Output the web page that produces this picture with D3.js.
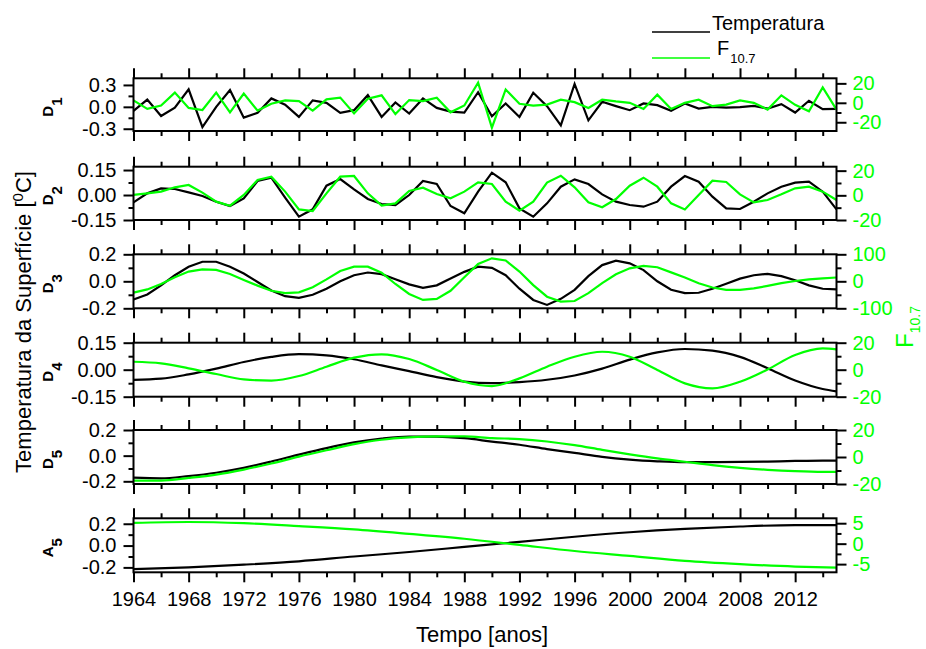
<!DOCTYPE html>
<html>
<head>
<meta charset="utf-8">
<script src="https://cdn.jsdelivr.net/npm/d3@7"></script>
<style>
  body { margin: 0; background: #fff; }
  text { font-family: "Liberation Sans", Arial, sans-serif; }
</style>
</head>
<body>
<div class="chart"></div>
<script>
// Data
var years = d3.range(1964, 2016);
var smoothYears = d3.range(1964, 2015, 2).concat([2015]);
var a5Years = d3.range(1964, 2013, 4).concat([2015]);
var xTickLabels = d3.range(1964, 2013, 4);

var d1Temp = [-0.055, 0.10, -0.125, -0.01, 0.24, -0.277, 0.0, 0.23, -0.148, -0.083,
  0.115, 0.03, -0.138, 0.088, 0.055, -0.083, -0.046, 0.16, -0.138, 0.06,
  -0.092, 0.115, -0.014, -0.065, -0.078, 0.2, -0.13, 0.046, -0.138, 0.194,
  0.01, -0.254, 0.314, -0.185, 0.07, 0.01, -0.046, 0.046, 0.023, -0.055,
  0.046, -0.023, 0.0, -0.01, -0.005, 0.014, -0.023, 0.037, -0.078, 0.083,
  -0.032, -0.028];
var d1Flux = [2.5, -6.3, -2.8, 10.5, -5.3, -7.4, 10.5, -9.8, 9.5, -8,
  -1, 2.5, 1.8, -8, 3.5, 5.3, -10.9, 4.2, 7.7, -11.6,
  2.8, 1.8, 5.3, -9.8, -2.8, 20.7, -25.6, 13.7, -1, -2.8,
  -1.8, 3.2, 0.7, -5.3, 3.2, 1.4, 0, -6.3, 8.4, -6.3,
  0, 3.2, -3.5, -1.8, 2.5, 0, -7, 7.7, -2.1, -8.8,
  15.8, -7];

var d2Temp = [-0.044, 0.01, 0.04, 0.036, 0.016, -0.006, -0.04, -0.066, -0.02, 0.084,
  0.104, -0.016, -0.13, -0.086, 0.056, 0.096, 0.034, -0.024, -0.054, -0.06,
  0.0, 0.084, 0.066, -0.066, -0.11, 0.02, 0.134, 0.076, -0.08, -0.13,
  -0.05, 0.05, 0.094, 0.066, 0.004, -0.04, -0.06, -0.07, -0.04, 0.05,
  0.114, 0.08, -0.01, -0.08, -0.084, -0.04, 0.01, 0.05, 0.074, 0.08,
  0.02, -0.086];
var d2Flux = [0.3, 1.6, 3, 6.5, 8.4, 2.2, -5.1, -8.4, 0.3, 12.4,
  15.1, 3, -11.4, -12.7, 1.6, 15.1, 15.7, 1.6, -8.4, -6.5,
  3.5, 6.2, 1.1, -2.4, 3, 10.5, 9.2, -5.1, -12.4, -5.1,
  10.3, 15.9, 6.5, -5.7, -9.7, -3, 7.8, 14.3, 7, -6.5,
  -11.4, 0.3, 11.9, 10.8, 0.8, -5.7, -3.8, 0.8, 5.7, 7,
  3, -3.8];

var d3Temp = [-0.135, -0.098, -0.03, 0.045, 0.108, 0.145, 0.145, 0.108, 0.058, -0.005,
  -0.068, -0.11, -0.123, -0.1, -0.055, 0, 0.045, 0.065, 0.053, 0.015,
  -0.023, -0.048, -0.03, 0.02, 0.07, 0.108, 0.1, 0.045, -0.055, -0.138,
  -0.175, -0.13, -0.063, 0.038, 0.12, 0.153, 0.133, 0.083, 0, -0.063,
  -0.088, -0.085, -0.055, -0.018, 0.02, 0.045, 0.055, 0.038, 0.008, -0.03,
  -0.055, -0.06];
var d3Flux = [-42, -30, -10, 15, 36, 44, 42, 27, 5, -16,
  -35, -44, -41, -22, 7, 38, 54, 54, 32, -10,
  -47, -69, -65, -35, 15, 64, 85, 77, 36, -14,
  -57, -75, -73, -44, -7, 26, 48, 57, 52, 33,
  14, -7, -23, -32, -32, -26, -17, -7, 1, 7,
  11, 14];

var d4Temp = [-0.056, -0.05, -0.026, 0.006, 0.043, 0.071, 0.086, 0.08, 0.058, 0.024,
  -0.008, -0.041, -0.066, -0.075, -0.069, -0.056, -0.032, 0.006, 0.056, 0.096,
  0.115, 0.106, 0.071, 0.008, -0.06, -0.107, -0.12];
var d4Flux = [5.9, 4.7, 1, -3.2, -7.2, -8.1, -4.7, 2.2, 8.9, 11.4,
  7.9, -0.2, -8.9, -12.1, -6.4, 2.2, 9.6, 13.3, 9.6, -0.2,
  -10.1, -13.8, -8.9, 0.2, 10.9, 15.8, 15];

var d5Temp = [-0.172, -0.177, -0.159, -0.133, -0.095, -0.046, 0.008, 0.059, 0.103, 0.133,
  0.149, 0.149, 0.136, 0.11, 0.085, 0.051, 0.021, -0.01, -0.031, -0.044,
  -0.051, -0.051, -0.049, -0.046, -0.041, -0.038, -0.038];
var d5Flux = [-17.5, -17.5, -15.5, -13, -9.3, -4.8, 0.3, 5, 9.5, 12.8,
  14.5, 15.3, 15.3, 14, 13.3, 11.5, 8.8, 5.3, 2, -1,
  -3.5, -6, -8, -9.5, -10.5, -11, -11];

var a5Temp = [-0.216, -0.2, -0.175, -0.144, -0.1, -0.059, -0.0125, 0.034, 0.081, 0.122, 0.153, 0.175, 0.1875, 0.1875];
var a5Flux = [5.1, 5.3, 5.0, 4.3, 3.5, 2.4, 1.2, -0.3, -1.8, -3.0, -4.2, -5.0, -5.6, -5.85];

var green = "#00ff00";
var svgWidth = 926, svgHeight = 649;
var plotLeft = 133.5, plotRight = 836.5;

// panel layout
var panels = [
  {sub: "1", letter: "D", top: 78.3, bottom: 131, tDom: [-0.331, 0.391], fDom: [-29, 25.2],
   tTicks: [-0.3, 0, 0.3], tMinor: [-0.15, 0.15], tDig: 1, fTicks: [-20, 0, 20], fMinor: [-10, 10],
   x: years, temp: d1Temp, flux: d1Flux, curve: d3.curveLinear},
  {sub: "2", letter: "D", top: 166.7, bottom: 220, tDom: [-0.15, 0.17], fDom: [-20, 23.2],
   tTicks: [-0.15, 0, 0.15], tMinor: [-0.075, 0.075], tDig: 2, fTicks: [-20, 0, 20], fMinor: [-10, 10],
   x: years, temp: d2Temp, flux: d2Flux, curve: d3.curveLinear},
  {sub: "3", letter: "D", top: 254.3, bottom: 308.3, tDom: [-0.2, 0.2], fDom: [-100, 100],
   tTicks: [-0.2, 0, 0.2], tMinor: [-0.1, 0.1], tDig: 1, fTicks: [-100, 0, 100], fMinor: [-50, 50],
   x: years, temp: d3Temp, flux: d3Flux, curve: d3.curveLinear},
  {sub: "4", letter: "D", top: 342.7, bottom: 396.7, tDom: [-0.15, 0.15], fDom: [-20, 20],
   tTicks: [-0.15, 0, 0.15], tMinor: [-0.075, 0.075], tDig: 2, fTicks: [-20, 0, 20], fMinor: [-10, 10],
   x: smoothYears, temp: d4Temp, flux: d4Flux, curve: d3.curveMonotoneX},
  {sub: "5", letter: "D", top: 430, bottom: 484, tDom: [-0.221, 0.2], fDom: [-20, 20],
   tTicks: [-0.2, 0, 0.2], tMinor: [-0.1, 0.1], tDig: 1, fTicks: [-20, 0, 20], fMinor: [-10, 10],
   x: smoothYears, temp: d5Temp, flux: d5Flux, curve: d3.curveMonotoneX},
  {sub: "5", letter: "A", top: 518.3, bottom: 572.3, tDom: [-0.245, 0.25], fDom: [-7, 6.2],
   tTicks: [-0.2, 0, 0.2], tMinor: [-0.1, 0.1], tDig: 1, fTicks: [-5, 0, 5], fMinor: [-2.5, 2.5],
   x: a5Years, temp: a5Temp, flux: a5Flux, curve: d3.curveMonotoneX}
];

var svg = d3.select(".chart").append("svg")
  .attr("width", svgWidth)
  .attr("height", svgHeight);

var xScale = d3.scaleLinear().domain([1964, 2015]).range([plotLeft, plotRight]);
var xMajor = d3.range(1964, 2016, 4);
var xMinor = d3.range(1966, 2016, 4);

function styleAxis(g, color) {
  g.select(".domain").remove();
  g.selectAll("line").attr("stroke", "#000").attr("stroke-width", 2);
  g.selectAll("text").attr("fill", color).style("font-size", "20px");
}

panels.forEach(function(p, i) {
  var yT = d3.scaleLinear().domain(p.tDom).range([p.bottom, p.top]);
  var yF = d3.scaleLinear().domain(p.fDom).range([p.bottom, p.top]);
  var last = i === panels.length - 1;

  // x ticks top and bottom
  svg.append("g").attr("transform", "translate(0," + p.top + ")")
    .call(d3.axisTop(xScale).tickValues(xMajor).tickSize(10).tickFormat(""))
    .call(styleAxis, "#000");
  svg.append("g").attr("transform", "translate(0," + p.top + ")")
    .call(d3.axisTop(xScale).tickValues(xMinor).tickSize(5).tickFormat(""))
    .call(styleAxis, "#000");
  svg.append("g").attr("transform", "translate(0," + p.bottom + ")")
    .call(d3.axisBottom(xScale).tickValues(last ? xTickLabels : xMajor).tickSize(10).tickPadding(10)
      .tickFormat(last ? d3.format("d") : ""))
    .call(styleAxis, "#000");
  svg.append("g").attr("transform", "translate(0," + p.bottom + ")")
    .call(d3.axisBottom(xScale).tickValues(xMinor).tickSize(5).tickFormat(""))
    .call(styleAxis, "#000");

  // left axis (temperature)
  svg.append("g").attr("transform", "translate(" + plotLeft + ",0)")
    .call(d3.axisLeft(yT).tickValues(p.tTicks).tickSize(10).tickPadding(7)
      .tickFormat(function(d) { return d.toFixed(p.tDig); }))
    .call(styleAxis, "#000");
  svg.append("g").attr("transform", "translate(" + plotLeft + ",0)")
    .call(d3.axisLeft(yT).tickValues(p.tMinor).tickSize(5).tickFormat(""))
    .call(styleAxis, "#000");

  // right axis (F10.7)
  svg.append("g").attr("transform", "translate(" + plotRight + ",0)")
    .call(d3.axisRight(yF).tickValues(p.fTicks).tickSize(10).tickPadding(6)
      .tickFormat(function(d) { return String(d); }))
    .call(styleAxis, green);
  svg.append("g").attr("transform", "translate(" + plotRight + ",0)")
    .call(d3.axisRight(yF).tickValues(p.fMinor).tickSize(5).tickFormat(""))
    .call(styleAxis, green);

  // lines
  var tLine = d3.line().x(function(d, k) { return xScale(p.x[k]); }).y(function(d) { return yT(d); }).curve(p.curve);
  var fLine = d3.line().x(function(d, k) { return xScale(p.x[k]); }).y(function(d) { return yF(d); }).curve(p.curve);

  svg.append("path").datum(p.temp).attr("d", tLine)
    .attr("fill", "none").attr("stroke", "#000").attr("stroke-width", 2.2);
  svg.append("path").datum(p.flux).attr("d", fLine)
    .attr("fill", "none").attr("stroke", green).attr("stroke-width", 2.2);

  // frame
  svg.append("rect")
    .attr("x", plotLeft).attr("y", p.top)
    .attr("width", plotRight - plotLeft).attr("height", p.bottom - p.top)
    .attr("fill", "none").attr("stroke", "#000").attr("stroke-width", 2);

  // panel label
  var cy = (p.top + p.bottom) / 2;
  var lab = svg.append("text")
    .attr("transform", "translate(53," + (cy + 12) + ") rotate(-90)")
    .attr("text-anchor", "start")
    .style("font-size", "15px").style("font-weight", "bold");
  lab.append("tspan").text(p.letter);
  lab.append("tspan").attr("dy", 9).text(p.sub);
});

// axis titles
var yTitle = svg.append("text")
  .attr("transform", "translate(31,322) rotate(-90)")
  .attr("text-anchor", "middle")
  .style("font-size", "22px");
yTitle.append("tspan").text("Temperatura da Superfície [");
yTitle.append("tspan").attr("dy", -8).style("font-size", "15px").text("0");
yTitle.append("tspan").attr("dy", 8).text("C]");

svg.append("text")
  .attr("x", 482).attr("y", 642)
  .attr("text-anchor", "middle")
  .style("font-size", "22px")
  .text("Tempo [anos]");

var fTitle = svg.append("text")
  .attr("transform", "translate(913,348) rotate(-90)")
  .attr("fill", green)
  .style("font-size", "24px");
fTitle.append("tspan").text("F");
fTitle.append("tspan").attr("dy", 7).style("font-size", "14px").text("10.7");

// legend
svg.append("line").attr("x1", 652).attr("x2", 710).attr("y1", 32).attr("y2", 32)
  .attr("stroke", "#000").attr("stroke-width", 1.5);
svg.append("text").attr("x", 712).attr("y", 30).style("font-size", "20px").text("Temperatura");
svg.append("line").attr("x1", 652).attr("x2", 710).attr("y1", 58).attr("y2", 58)
  .attr("stroke", green).attr("stroke-width", 1.5);
var legF = svg.append("text").attr("x", 717).attr("y", 55).style("font-size", "20px");
legF.append("tspan").text("F");
legF.append("tspan").attr("dy", 8).attr("dx", 1).style("font-size", "13px").text("10.7");
</script>
</body>
</html>
